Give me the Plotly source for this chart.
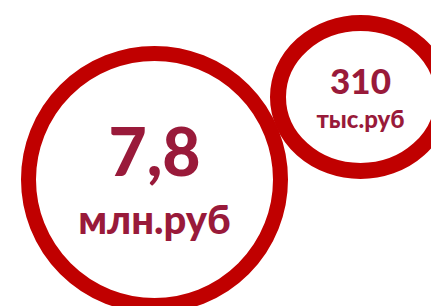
import plotly.graph_objects as go

# Data
values = ["7,8", "310"]
units = ["млн.руб", "тыс.руб"]

# Layout (pixel space)
W, H = 439, 306
ring_color = "#C00000"
text_color = "#991A3A"

centers_x = [146.5, 352.5]
centers_y = [171.5, 89]
radii_x = [126, 82.5]
radii_y = [126, 74]
ring_w = [15, 16]
value_y = [151, 77]
unit_y = [216, 114]
value_size = [66, 35]
unit_size = [40, 24]

fig = go.Figure()
for i in range(len(values)):
    fig.add_shape(type="circle", xref="x", yref="y",
                  x0=centers_x[i] - radii_x[i], x1=centers_x[i] + radii_x[i],
                  y0=centers_y[i] - radii_y[i], y1=centers_y[i] + radii_y[i],
                  line=dict(color=ring_color, width=ring_w[i]),
                  fillcolor="white", layer="below")
    fig.add_trace(go.Scatter(x=[centers_x[i]], y=[value_y[i]], mode="text",
                             text=[values[i]],
                             textposition="middle center",
                             textfont=dict(family="Lato", size=value_size[i], color=text_color, weight=900),
                             hoverinfo="skip", showlegend=False))
    fig.add_trace(go.Scatter(x=[centers_x[i]], y=[unit_y[i]], mode="text",
                             text=[units[i]],
                             textposition="middle center",
                             textfont=dict(family="Lato", size=unit_size[i], color=text_color, weight=900),
                             hoverinfo="skip", showlegend=False))

fig.update_layout(width=W, height=H, margin=dict(l=0, r=0, t=0, b=0),
                  paper_bgcolor="white", plot_bgcolor="white",
                  xaxis=dict(range=[0, W], visible=False, fixedrange=True),
                  yaxis=dict(range=[H, 0], visible=False, fixedrange=True),
                  showlegend=False)
fig.write_html("out.html", config={"displayModeBar": False})
